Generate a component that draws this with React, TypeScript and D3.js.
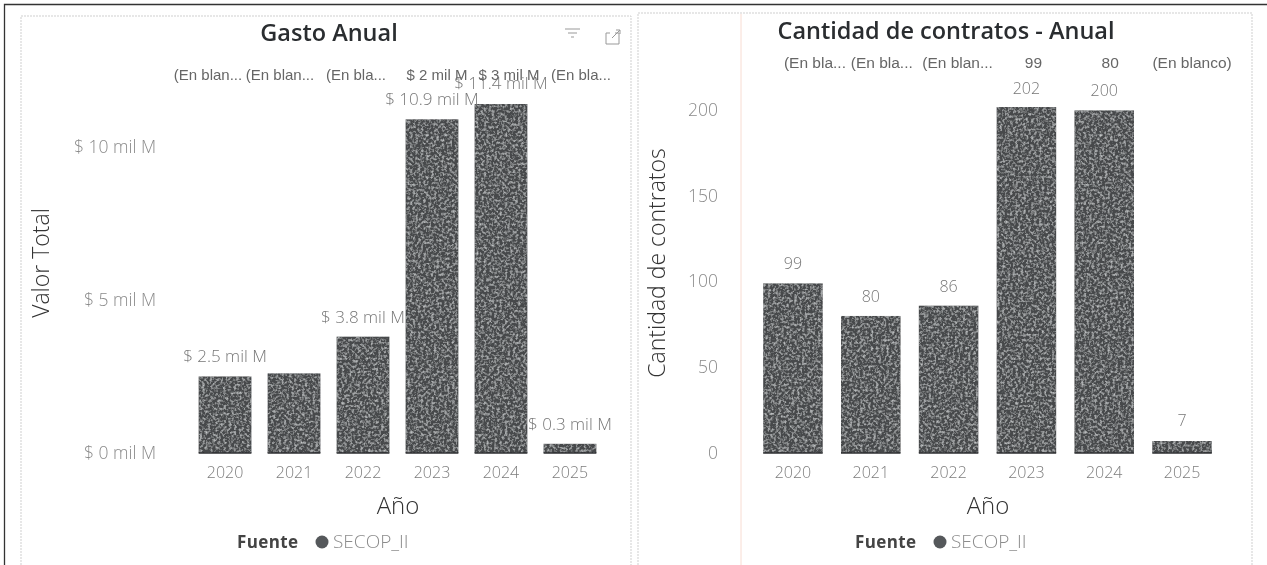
import React, { useEffect, useRef } from 'react';
import * as d3 from 'd3';

const years = ['2020', '2021', '2022', '2023', '2024', '2025'];

const gastoValues = [2.5, 2.6, 3.8, 10.9, 11.4, 0.3];
const gastoLabels = ['$ 2.5 mil M', '', '$ 3.8 mil M', '$ 10.9 mil M', '$ 11.4 mil M', '$ 0.3 mil M'];
const gastoTopLabels = ['(En blan...', '(En blan...', '(En bla...', '$ 2 mil M', '$ 3 mil M', '(En bla...'];
const gastoTicks = [0, 5, 10];

const contratosValues = [99, 80, 86, 202, 200, 7];
const contratosTopLabels = ['(En bla...', '(En bla...', '(En blan...', '99', '80', '(En blanco)'];
const contratosTicks = [0, 50, 100, 150, 200];

const SANS = '"Open Sans", "Noto Sans", sans-serif';
const ARIAL = '"Liberation Sans", Arial, sans-serif';

const drawPanel = (svg, cfg) => {
  const x = d3
    .scaleBand()
    .domain(years)
    .range(cfg.xRange)
    .paddingInner(0.235)
    .paddingOuter(0.118);

  const y = d3.scaleLinear().domain(cfg.domain).range([453, cfg.yTop]);

  // opacity just under 1 keeps the text antialiasing grey like the scan
  const g = svg.append('g').style('opacity', 0.999);

  g.append('text')
    .attr('x', cfg.titleX)
    .attr('y', cfg.titleY)
    .attr('text-anchor', 'middle')
    .style('font', `600 23.5px ${SANS}`)
    .style('fill', '#2a2d30')
    .text(cfg.title);

  g.selectAll('rect.bar')
    .data(cfg.values)
    .enter()
    .append('rect')
    .attr('class', 'bar')
    .attr('x', (d, i) => x(years[i]))
    .attr('y', (d) => y(d))
    .attr('width', x.bandwidth())
    .attr('height', (d) => y(cfg.domain[0]) - y(d))
    .style('fill', '#47494c')
    .attr('filter', 'url(#grain)');

  // darker foot on each bar, the scan keeps it
  g.selectAll('line.foot')
    .data(cfg.values)
    .enter()
    .append('line')
    .attr('class', 'foot')
    .attr('x1', (d, i) => x(years[i]))
    .attr('x2', (d, i) => x(years[i]) + x.bandwidth())
    .attr('y1', 453)
    .attr('y2', 453)
    .style('stroke', '#2c2e30')
    .style('stroke-width', 1.5);

  // y axis
  const yAxis = g
    .append('g')
    .attr('transform', `translate(${cfg.yAxisX},0)`)
    .call(d3.axisLeft(y).tickValues(cfg.ticks).tickSize(0).tickPadding(0).tickFormat(cfg.tickFormat));
  yAxis.select('.domain').remove();
  yAxis
    .selectAll('text')
    .attr('dy', '0.3em')
    .style('font', `300 17.5px ${SANS}`)
    .style('fill', '#8a8a8a');

  // x axis
  const xAxis = g
    .append('g')
    .attr('transform', 'translate(0,453)')
    .call(d3.axisBottom(x).tickSize(0).tickPadding(14));
  xAxis.select('.domain').remove();
  xAxis
    .selectAll('text')
    .style('font', `300 16px ${SANS}`)
    .style('fill', '#7d7d7d');

  g.append('text')
    .attr('transform', `translate(${cfg.yTitleX},263) rotate(-90)`)
    .attr('text-anchor', 'middle')
    .style('font', `300 23px ${SANS}`)
    .style('fill', '#333')
    .text(cfg.yTitle);

  g.append('text')
    .attr('x', cfg.xTitleX)
    .attr('y', 514)
    .attr('text-anchor', 'middle')
    .style('font', `300 24px ${SANS}`)
    .style('fill', '#333')
    .text('Año');

  // value labels
  g.selectAll('text.value')
    .data(cfg.labels)
    .enter()
    .append('text')
    .attr('class', 'value')
    .attr('x', (d, i) => x(years[i]) + x.bandwidth() / 2)
    .attr('y', (d, i) => y(cfg.values[i]) + cfg.labelGap[i])
    .attr('text-anchor', 'middle')
    .style('font', `300 ${cfg.labelSize}px ${SANS}`)
    .style('fill', '#777')
    .text((d) => d);

  // top row (second series, mostly blank)
  g.selectAll('text.top')
    .data(cfg.topLabels)
    .enter()
    .append('text')
    .attr('class', 'top')
    .attr('x', (d, i) => x(years[i]) + x.bandwidth() / 2 + cfg.topShift[i])
    .attr('y', cfg.topY)
    .attr('text-anchor', 'middle')
    .style('font', `${cfg.topSize}px ${ARIAL}`)
    .style('fill', '#666')
    .text((d) => d);

  // legend
  g.append('text')
    .attr('x', cfg.legendX)
    .attr('y', 548)
    .style('font', `700 17px ${SANS}`)
    .style('letter-spacing', '0.4px')
    .style('fill', '#444')
    .text('Fuente');
  g.append('circle')
    .attr('cx', cfg.legendX + 85)
    .attr('cy', 542)
    .attr('r', 6.5)
    .style('fill', '#55585b');
  g.append('text')
    .attr('x', cfg.legendX + 96)
    .attr('y', 548)
    .style('font', `300 19px ${SANS}`)
    .style('fill', '#8c8c8c')
    .text('SECOP_II');
};

const App = () => {
  const svgRef = useRef(null);

  useEffect(() => {
    const svg = d3.select(svgRef.current);
    svg.selectAll('*').remove();

    const defs = svg.append('defs');
    const grain = defs
      .append('filter')
      .attr('id', 'grain')
      .attr('x', '0')
      .attr('y', '0')
      .attr('width', '100%')
      .attr('height', '100%');
    grain
      .append('feTurbulence')
      .attr('type', 'fractalNoise')
      .attr('baseFrequency', '0.38')
      .attr('numOctaves', 3)
      .attr('seed', 4)
      .attr('result', 'noise');
    grain
      .append('feColorMatrix')
      .attr('in', 'noise')
      .attr('type', 'matrix')
      .attr('values', '0 0 0 0 0.6  0 0 0 0 0.62  0 0 0 0 0.63  0 0 0 1.9 -0.85')
      .attr('result', 'speck');
    grain
      .append('feGaussianBlur')
      .attr('in', 'speck')
      .attr('stdDeviation', 0.5)
      .attr('result', 'soft');
    grain
      .append('feComposite')
      .attr('in', 'soft')
      .attr('in2', 'SourceGraphic')
      .attr('operator', 'in')
      .attr('result', 'clipped');
    grain
      .append('feMerge')
      .selectAll('feMergeNode')
      .data(['SourceGraphic', 'clipped'])
      .enter()
      .append('feMergeNode')
      .attr('in', (d) => d);

    // scanned page frame
    svg.append('rect').attr('width', 1267).attr('height', 565).style('fill', '#fff');
    svg
      .append('path')
      .attr('d', 'M4.5,565V4.5H1267')
      .style('fill', 'none')
      .style('stroke', '#333')
      .style('stroke-width', 1.3);
    svg
      .append('path')
      .attr('d', 'M21,565V16H631V565')
      .style('fill', 'none')
      .style('stroke', '#cfcfcf')
      .style('stroke-dasharray', '2 1');
    svg
      .append('path')
      .attr('d', 'M638,565V13H1252V565')
      .style('fill', 'none')
      .style('stroke', '#cfcfcf')
      .style('stroke-dasharray', '2 1');
    svg
      .append('line')
      .attr('x1', 741)
      .attr('x2', 741)
      .attr('y1', 14)
      .attr('y2', 565)
      .style('stroke', '#f8dcd2');

    drawPanel(svg, {
      title: 'Gasto Anual',
      titleX: 329,
      titleY: 41,
      xRange: [190.5, 604.5],
      domain: [0, 11.4],
      yTop: 104,
      values: gastoValues,
      labels: gastoLabels,
      labelSize: 17,
      labelGap: [-14, 0, -14, -14, -15, -14],
      topLabels: gastoTopLabels,
      topShift: [-17, -14, -7, 5, 8, 11],
      topSize: 15,
      topY: 80,
      ticks: gastoTicks,
      tickFormat: (d) => `$ ${d} mil M`,
      yAxisX: 156,
      yTitle: 'Valor Total',
      yTitleX: 49,
      xTitleX: 398,
      legendX: 237,
    });

    drawPanel(svg, {
      title: 'Cantidad de contratos - Anual',
      titleX: 946,
      titleY: 39,
      xRange: [754, 1221],
      domain: [0, 202],
      yTop: 107,
      values: contratosValues,
      labels: contratosValues.map(String),
      labelSize: 16,
      labelGap: [-14, -14, -14, -13, -14, -15],
      topLabels: contratosTopLabels,
      topShift: [22, 11, 9, 7, 6, 10],
      topSize: 15.5,
      topY: 68,
      ticks: contratosTicks,
      tickFormat: (d) => `${d}`,
      yAxisX: 718,
      yTitle: 'Cantidad de contratos',
      yTitleX: 665,
      xTitleX: 988,
      legendX: 855,
    });

    // visual header icons
    const icons = svg.append('g').style('fill', 'none').style('stroke', '#999');
    icons.append('path').attr('d', 'M565,29H580M568,33H577M571,37H574');
    icons
      .append('path')
      .attr('d', 'M606,33V44H619V33H615M606,33H610M612,38L620,30M616,30H620V34');
  }, []);

  return (
    <svg
      ref={svgRef}
      width={1267}
      height={565}
      style={{ position: 'absolute', left: 0, top: 0, display: 'block' }}
    />
  );
};

export default App;
